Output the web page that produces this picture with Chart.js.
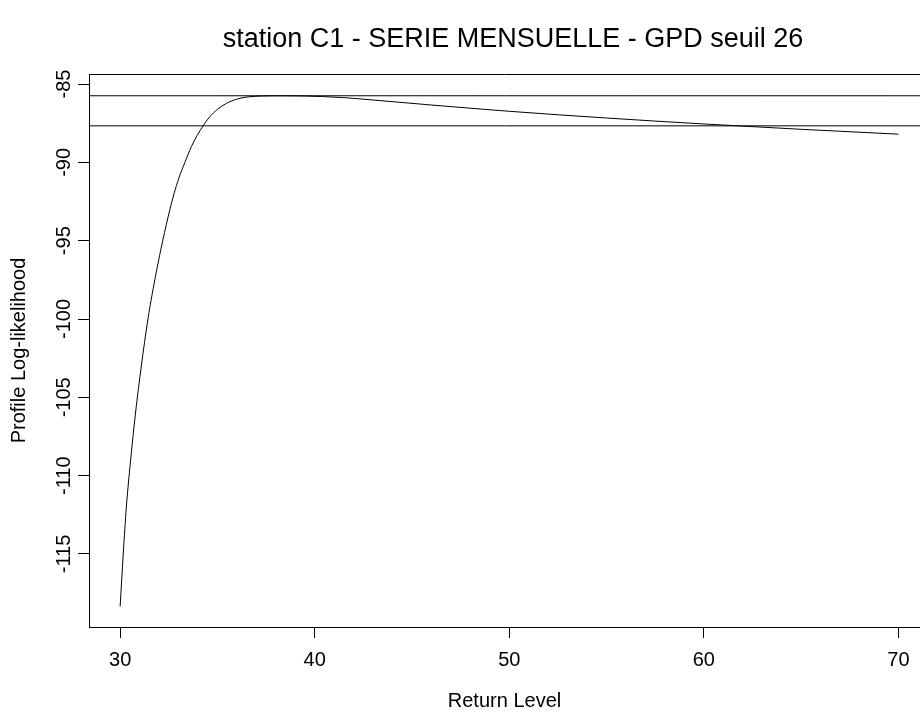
<!DOCTYPE html>
<html>
<head>
<meta charset="utf-8">
<title>station C1 - SERIE MENSUELLE - GPD seuil 26</title>
<script src="https://cdn.jsdelivr.net/npm/chart.js@4"></script>
<style>
    html, body { margin: 0; padding: 0; background: #fff; overflow: hidden; }
    #chartProfil { display: block; }
</style>
</head>
<body>
<canvas id="chartProfil" width="920" height="713"></canvas>
<script>
// niveaux de retour (axe x) et log-vraisemblance profilee (axe y)
const returnLevel = [30, 30.16, 30.32, 30.54, 30.79, 31.09, 31.43, 31.86, 32.19, 32.56,
    32.77, 33.02, 33.33, 33.66, 33.95, 34.27, 34.6, 35.0, 35.47, 36.16,
    37.19, 38.3, 39.5, 40.4, 41.5, 43, 46, 50, 55, 60, 65, 70];
const logLik = [-118.35, -115, -112, -109, -106, -103, -100, -97, -95, -93,
    -92, -91, -90, -89, -88.3, -87.66, -87.1, -86.62, -86.23, -85.91,
    -85.77, -85.75, -85.765, -85.8, -85.87, -86.02, -86.34, -86.74, -87.17, -87.55, -87.89, -88.2];

// lignes horizontales : maximum et maximum - 1.92
const refLevels = [-85.75, -87.67];

const xTicks = [30, 40, 50, 60, 70];
const yTicks = [-85, -90, -95, -100, -105, -110, -115];

const titre = "station C1 - SERIE MENSUELLE - GPD seuil 26";
const police = "'Liberation Sans', Arial, sans-serif";

const xMin = 28.4, xMax = 71.11;
const yMin = -119.66, yMax = -84.36;

document.addEventListener("DOMContentLoaded", function () {
    const canvas = document.getElementById("chartProfil");

    let points = [];
    for (let i = 0; i < returnLevel.length; i++) {
        points.push({ x: returnLevel[i], y: logLik[i] });
    }

    let datasets = [
        {
            data: points,
            borderColor: "#000",
            borderWidth: 1,
            pointRadius: 0,
            cubicInterpolationMode: "monotone"
        }
    ];

    refLevels.forEach(function (niveau) {
        datasets.push({
            data: [{ x: xMin, y: niveau }, { x: xMax, y: niveau }],
            borderColor: "#000",
            borderWidth: 1,
            pointRadius: 0
        });
    });

    // cadre du haut, labels y tournes et titre
    const decor = {
        id: "decor",
        afterDraw: function (chart) {
            const ctx = chart.ctx;
            const area = chart.chartArea;
            const yScale = chart.scales.y;

            ctx.save();
            ctx.strokeStyle = "#000";
            ctx.lineWidth = 1;
            ctx.beginPath();
            ctx.moveTo(area.left, Math.round(area.top) + 0.5);
            ctx.lineTo(area.right, Math.round(area.top) + 0.5);
            ctx.stroke();

            ctx.fillStyle = "#000";
            ctx.font = "20px " + police;
            ctx.textAlign = "center";
            ctx.textBaseline = "alphabetic";
            yTicks.forEach(function (v) {
                const py = yScale.getPixelForValue(v);
                ctx.save();
                ctx.translate(70, py);
                ctx.rotate(-Math.PI / 2);
                ctx.fillText(String(v), 0, 0);
                ctx.restore();
            });

            ctx.font = "27px " + police;
            ctx.fillText(titre, 513, 47);
            ctx.restore();
        }
    };

    new Chart(canvas, {
        type: "line",
        data: { datasets: datasets },
        options: {
            responsive: false,
            animation: false,
            devicePixelRatio: 1,
            layout: { padding: { top: 74, left: 0, right: 0, bottom: 0 } },
            plugins: {
                legend: { display: false },
                tooltip: { enabled: false }
            },
            scales: {
                x: {
                    type: "linear",
                    min: xMin,
                    max: xMax,
                    afterBuildTicks: function (s) {
                        s.ticks = xTicks.map(v => ({ value: v }));
                    },
                    afterFit: function (s) { s.height = 86; },
                    grid: {
                        display: true,
                        drawOnChartArea: false,
                        drawTicks: true,
                        tickLength: 11,
                        color: "#000"
                    },
                    border: { display: true, color: "#000", width: 1 },
                    ticks: {
                        color: "#000",
                        padding: 10,
                        maxRotation: 0,
                        font: { family: police, size: 20 },
                        callback: (value) => String(value)
                    },
                    title: {
                        display: true,
                        text: "Return Level",
                        color: "#000",
                        font: { family: police, size: 20 },
                        padding: { top: 0, bottom: 0 }
                    }
                },
                y: {
                    type: "linear",
                    min: yMin,
                    max: yMax,
                    afterBuildTicks: function (s) {
                        s.ticks = yTicks.map(v => ({ value: v }));
                    },
                    afterFit: function (s) { s.width = 89; },
                    grid: {
                        display: true,
                        drawOnChartArea: false,
                        drawTicks: true,
                        tickLength: 11,
                        color: "#000"
                    },
                    border: { display: true, color: "#000", width: 1 },
                    ticks: { display: false },
                    title: {
                        display: true,
                        text: "Profile Log-likelihood",
                        color: "#000",
                        font: { family: police, size: 20 },
                        padding: { top: 7, bottom: 0 }
                    }
                }
            }
        },
        plugins: [decor]
    });
});
</script>
</body>
</html>
